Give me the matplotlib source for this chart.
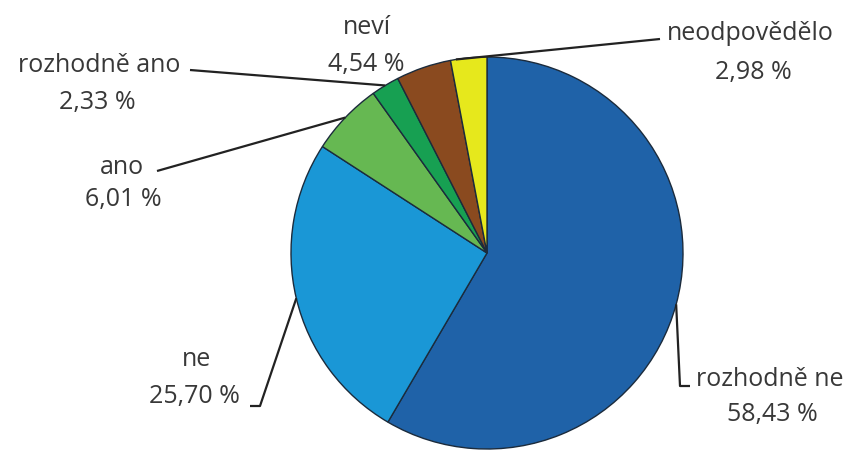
import numpy as np
import matplotlib
matplotlib.use("Agg")
import matplotlib.pyplot as plt

labels = ["rozhodně ne", "ne", "ano", "rozhodně ano", "neví", "neodpovědělo"]
values = [58.43, 25.70, 6.01, 2.33, 4.54, 2.98]
pct_text = ["58,43 %", "25,70 %", "6,01 %", "2,33 %", "4,54 %", "2,98 %"]
colors = ["#1f62a8", "#1a97d6", "#66b852", "#17a052", "#8a4a1f", "#e6e81c"]

W, H = 856, 452
fig = plt.figure(figsize=(W / 100, H / 100), dpi=100)
ax = fig.add_axes([0, 0, 1, 1])

cx, cy, R = 487, H - 254, 196
wedges, _ = ax.pie(values, colors=colors, startangle=90, counterclock=False,
                   center=(cx, cy), radius=R,
                   wedgeprops=dict(edgecolor="#1b2b3c", linewidth=1.0))
ax.set_xlim(0, W)
ax.set_ylim(0, H)
ax.set_aspect("equal")
ax.axis("off")

def Y(y):
    return H - y

# label layout: (line1 center, line2 center) in image px, and leader path after anchor
layout = {
    "rozhodně ne": dict(pos=(770, 380, 772, 415), path=[(680, 387), (690, 387)], frac=0.5),
    "ne": dict(pos=(196, 360, 194, 397), path=[(260, 407), (250, 407)], frac=0.5),
    "ano": dict(pos=(122, 167, 123, 200), path=[(157, 172)], frac=0.5),
    "rozhodně ano": dict(pos=(99, 65, 97, 103), path=[(190, 71)], frac=0.5),
    "neví": dict(pos=(367, 28, 366, 65), path=None, frac=0.5),
    "neodpovědělo": dict(pos=(750, 33, 753, 72), path=[(660, 40)], frac=0.85),
}

font = dict(family=["Open Sans", "DejaVu Sans"], fontsize=18, color="#383838")
for w, lab, pt in zip(wedges, labels, pct_text):
    L = layout[lab]
    x1, y1, x2, y2 = L["pos"]
    ax.text(x1, Y(y1), lab, ha="center", va="center", **font)
    ax.text(x2, Y(y2), pt, ha="center", va="center", **font)
    if L["path"]:
        t1, t2 = w.theta1, w.theta2
        ang = np.deg2rad(t1 + (t2 - t1) * L["frac"])
        ax0, ay0 = cx + R * np.cos(ang), cy + R * np.sin(ang)
        xs = [ax0] + [p[0] for p in L["path"]]
        ys = [ay0] + [Y(p[1]) for p in L["path"]]
        ax.plot(xs, ys, color="#222222", lw=1.6, solid_capstyle="butt")

fig.savefig("out.png", dpi=100)
